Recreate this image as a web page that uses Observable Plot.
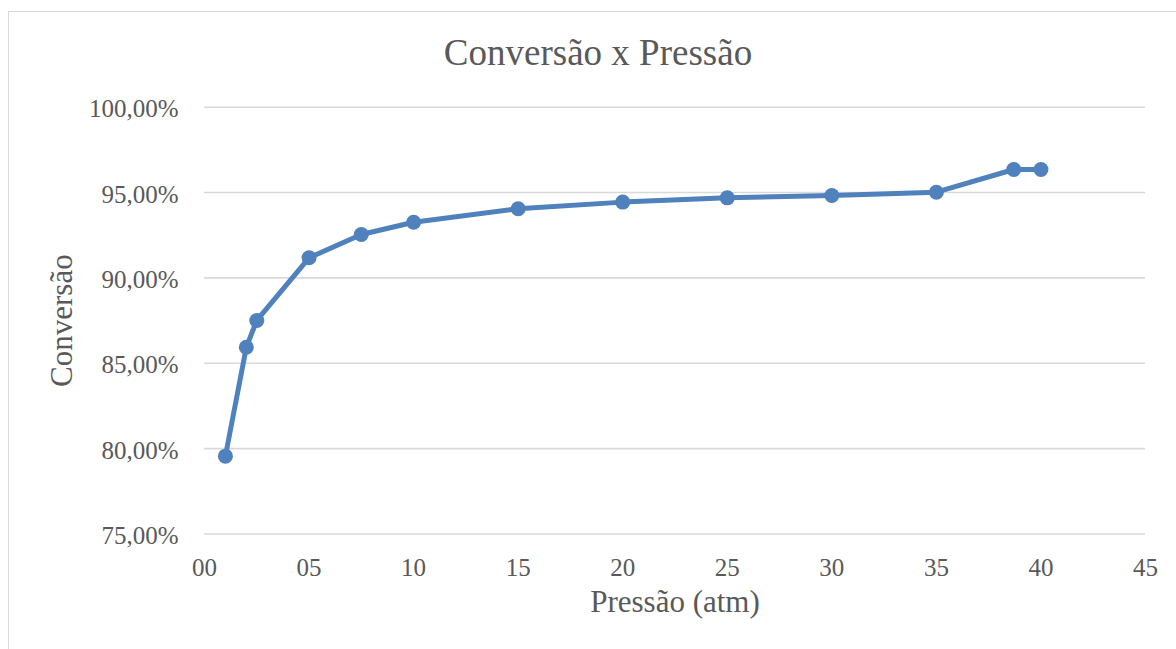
<!DOCTYPE html>
<html>
<head>
<meta charset="utf-8">
<script src="https://cdn.jsdelivr.net/npm/d3@7"></script>
<script src="https://cdn.jsdelivr.net/npm/@observablehq/plot@0.6"></script>
<style>
  html, body { margin: 0; padding: 0; background: #fff; }
  #wrap { position: relative; width: 1176px; height: 649px; overflow: hidden; font-family: "Liberation Serif", "Times New Roman", serif; color: #595959; }
  #frame { position: absolute; left: 8px; top: 11px; width: 1200px; height: 700px; border: 1.5px solid #d9d9d9; box-sizing: border-box; }
  #title { position: absolute; left: 0; width: 1196px; top: 34px; text-align: center; font-size: 37px; line-height: 1; white-space: nowrap; }
  #chart { position: absolute; left: 0; top: 0; }
</style>
</head>
<body>
<div id="wrap">
  <div id="frame"></div>
  <div id="title">Conversão x Pressão</div>
  <div id="chart"></div>
</div>
<script>
// Conversion versus pressure
const pressao = [1, 2, 2.5, 5, 7.5, 10, 15, 20, 25, 30, 35, 38.7, 40];
const conversao = [0.7956, 0.8594, 0.8751, 0.9118, 0.9254, 0.9326, 0.9405, 0.9444, 0.9469, 0.9483, 0.9502, 0.9635, 0.9635];
const xTicks = [0, 5, 10, 15, 20, 25, 30, 35, 40, 45];
const yTicks = [0.75, 0.80, 0.85, 0.90, 0.95, 1.00];
const xTitle = "Pressão (atm)";
const yTitle = "Conversão";

const rows = pressao.map((p, i) => ({p, c: conversao[i]}));
const blue = "#4f81bd";
const serif = '"Liberation Serif", "Times New Roman", serif';

const chart = Plot.plot({
  width: 1176,
  height: 649,
  marginTop: 106.7,
  marginBottom: 115.5,
  marginLeft: 204,
  marginRight: 31,
  style: {fontFamily: serif, fontSize: "25px", color: "#595959", background: "transparent", overflow: "visible"},
  x: {domain: [0, 45]},
  y: {domain: [0.75, 1.0]},
  marks: [
    Plot.gridY(yTicks, {stroke: "#d9d9d9", strokeOpacity: 1, strokeWidth: 1.6}),
    Plot.axisX(xTicks, {tickSize: 0, tickPadding: 24, tickFormat: d => String(d).padStart(2, "0"), label: null}),
    Plot.axisY(yTicks, {tickSize: 0, tickPadding: 26, tickFormat: d => (d * 100).toFixed(2).replace(".", ",") + "%", label: null, dy: 2}),
    Plot.line(rows, {x: "p", y: "c", stroke: blue, strokeWidth: 5, strokeLinejoin: "round"}),
    Plot.dot(rows, {x: "p", y: "c", fill: blue, r: 7.5}),
    Plot.text([xTitle], {frameAnchor: "bottom", text: d => d, dy: 68, fontSize: 31, fill: "#595959", lineAnchor: "middle", textAnchor: "middle"}),
    Plot.text([yTitle], {frameAnchor: "left", text: d => d, dx: -142, rotate: -90, fontSize: 31, fill: "#595959", lineAnchor: "middle", textAnchor: "middle"})
  ]
});
document.getElementById("chart").appendChild(chart);
</script>
</body>
</html>
